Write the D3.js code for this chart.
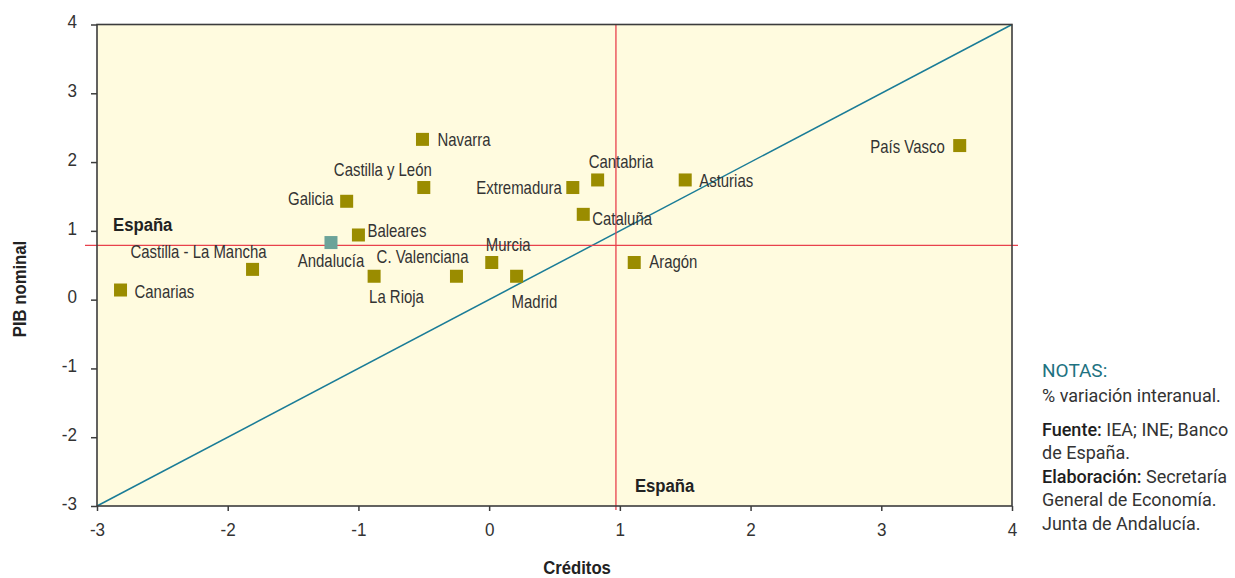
<!DOCTYPE html>
<html><head><meta charset="utf-8">
<script src="https://cdn.jsdelivr.net/npm/d3@7"></script>
<style>
html,body{margin:0;padding:0;background:#fff;}
svg{display:block;}
</style></head><body>
<svg id="chart" width="1235" height="578"></svg>
<script>
// ---- data ----
const regions = ["Canarias","Castilla - La Mancha","Andalucía","Galicia","Baleares","La Rioja","C. Valenciana","Castilla y León","Navarra","Murcia","Madrid","Extremadura","Cantabria","Cataluña","Aragón","Asturias","País Vasco"];
const creditos = [-2.82,-1.81,-1.21,-1.09,-1.00,-0.88,-0.25,-0.50,-0.51,0.02,0.21,0.64,0.83,0.72,1.11,1.50,3.60];
const pibNominal = [0.14,0.44,0.83,1.43,0.94,0.34,0.34,1.63,2.33,0.54,0.34,1.63,1.74,1.24,0.54,1.74,2.24];
const espanaCreditos = 0.97;
const espanaPib = 0.79;
const xTicks = [-3,-2,-1,0,1,2,3,4];
const yTicks = [-3,-2,-1,0,1,2,3,4];
const highlighted = "Andalucía";
const xTitle = "Créditos";
const yTitle = "PIB nominal";
const refLabel = "España";

// label placement: [anchor, dx, dy] in px relative to the marker
const labelPlacement = {
  "Canarias":["start",14,8],
  "Castilla - La Mancha":["end",14,-11],
  "Andalucía":["middle",0,24],
  "Galicia":["end",-13,4],
  "Baleares":["start",9,2],
  "La Rioja":["start",-5,27],
  "C. Valenciana":["end",12,-13],
  "Castilla y León":["end",8,-12],
  "Navarra":["start",15,7],
  "Murcia":["start",-6,-11],
  "Madrid":["start",-5,32],
  "Extremadura":["end",-11,6],
  "Cantabria":["start",-9,-12],
  "Cataluña":["start",9,11],
  "Aragón":["start",15,6],
  "Asturias":["start",14,7],
  "País Vasco":["end",-15,7]
};

const points = regions.map((r,i)=>({name:r, x:creditos[i], y:pibNominal[i]}));

// ---- chart ----
const SANS = "'Liberation Sans',Arial,sans-serif";
const LBL_SX = 0.83, BOLD_SX = 0.88, TICK_SX = 0.95;
const svg = d3.select("#chart");
const pL = 97, pR = 1012, pT = 24.5, pB = 506;
const x = d3.scaleLinear().domain([-3,4]).range([pL,pR]);
const y = d3.scaleLinear().domain([-3,4]).range([pB,pT]);

svg.append("rect").attr("x",pL).attr("y",pT).attr("width",pR-pL).attr("height",pB-pT)
  .attr("fill","#FFFBDF");

// diagonal y = x
svg.append("line")
  .attr("x1",x(-3)).attr("y1",y(-3)).attr("x2",x(4)).attr("y2",y(4))
  .attr("stroke","#1A7C97").attr("stroke-width",1.5);

// España reference lines
svg.append("line")
  .attr("x1",x(-3)-12).attr("x2",x(4)+6).attr("y1",y(espanaPib)).attr("y2",y(espanaPib))
  .attr("stroke","#E8414C").attr("stroke-width",1.3);
svg.append("line")
  .attr("x1",x(espanaCreditos)).attr("x2",x(espanaCreditos)).attr("y1",pT).attr("y2",pB+4)
  .attr("stroke","#E8414C").attr("stroke-width",1.3);

// border
svg.append("rect").attr("x",pL).attr("y",pT).attr("width",pR-pL).attr("height",pB-pT)
  .attr("fill","none").attr("stroke","#3c3c3c").attr("stroke-width",1.6);

// axes
const yAxis = svg.append("g").attr("transform",`translate(${pL},0)`)
  .call(d3.axisLeft(y).tickValues(yTicks).tickSize(6).tickSizeOuter(0).tickPadding(14).tickFormat(d=>String(d)));
const xAxis = svg.append("g").attr("transform",`translate(0,${pB})`)
  .call(d3.axisBottom(x).tickValues(xTicks).tickSize(5).tickSizeOuter(0).tickPadding(12).tickFormat(d=>String(d)));
[yAxis,xAxis].forEach(g=>{
  g.select(".domain").remove();
  g.selectAll(".tick line").attr("stroke","#3c3c3c").attr("stroke-width",1.5);
  g.selectAll(".tick text").attr("fill","#333").style("font-family",SANS).style("font-size","18px");
});
yAxis.selectAll(".tick text").attr("dy","0.18em");
xAxis.selectAll(".tick text").attr("dy","0.71em");
svg.selectAll(".tick text").each(function(){
  const t = d3.select(this);
  const x0 = +t.attr("x") || 0, y0 = +t.attr("y") || 0;
  t.attr("x",null).attr("y",null).attr("transform",`translate(${x0},${y0}) scale(${TICK_SX},1)`);
});

// markers
const s = 13;
svg.append("g").selectAll("rect").data(points).join("rect")
  .attr("x",d=>x(d.x)-s/2).attr("y",d=>y(d.y)-s/2).attr("width",s).attr("height",s)
  .attr("fill",d=>d.name===highlighted ? "#6CA399" : "#9A8C00");

// labels
svg.append("g").selectAll("text").data(points).join("text")
  .attr("transform",d=>`translate(${x(d.x)+labelPlacement[d.name][1]},${y(d.y)+labelPlacement[d.name][2]}) scale(${LBL_SX},1)`)
  .attr("text-anchor",d=>labelPlacement[d.name][0])
  .attr("fill","#333").style("font-family",SANS).style("font-size","18px")
  .text(d=>d.name);

function boldText(tr, str, anchor){
  return svg.append("text").attr("transform",`${tr} scale(${BOLD_SX},1)`)
    .attr("text-anchor",anchor||"start")
    .attr("fill","#222").style("font-family",SANS).style("font-size","19px").style("font-weight","bold")
    .text(str);
}
// España labels
boldText(`translate(${x(-3)+16},${y(espanaPib)-14})`, refLabel);
boldText(`translate(${x(espanaCreditos)+19},${pB-14})`, refLabel);

// axis titles
boldText(`translate(577,574)`, xTitle, "middle");
boldText(`translate(26,289) rotate(-90)`, yTitle, "middle");

// notes
const notes = svg.append("g").style("font-family","Roboto,'Liberation Sans',sans-serif").style("font-size","18px");
notes.append("text").attr("x",1042).attr("y",377).attr("fill","#1E7281").style("font-size","19px").text("NOTAS:");
notes.append("text").attr("x",1042).attr("y",402).attr("fill","#333").text("% variación interanual.");
const f = notes.append("text").attr("x",1042).attr("y",436).attr("fill","#333");
f.append("tspan").attr("fill","#1e1e1e").style("font-weight","500").text("Fuente:");
f.append("tspan").text(" IEA; INE; Banco");
notes.append("text").attr("x",1042).attr("y",459).attr("fill","#333").text("de España.");
const e = notes.append("text").attr("x",1042).attr("y",483).attr("fill","#333");
e.append("tspan").attr("fill","#1e1e1e").style("font-weight","500").text("Elaboración:");
e.append("tspan").text(" Secretaría");
notes.append("text").attr("x",1042).attr("y",506).attr("fill","#333").text("General de Economía.");
notes.append("text").attr("x",1042).attr("y",530).attr("fill","#333").text("Junta de Andalucía.");
</script>
</body></html>
